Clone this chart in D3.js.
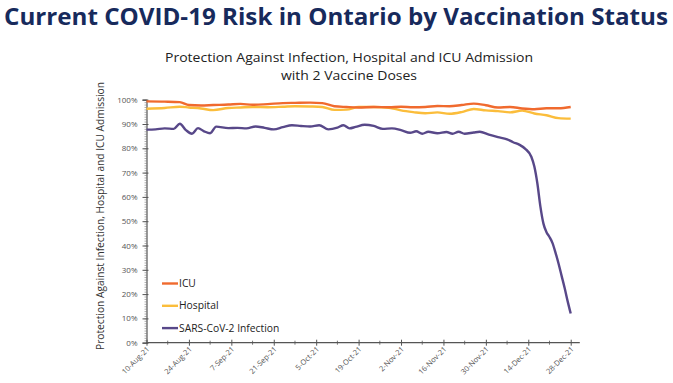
<!DOCTYPE html>
<html>
<head>
<meta charset="utf-8">
<script src="https://cdn.jsdelivr.net/npm/d3@7"></script>
<style>
  body { margin: 0; background: #fff; }
  svg { display: block; }
  text { font-family: "Open Sans", sans-serif; }
</style>
</head>
<body>
<div id="chart"></div>
<script>
// days counted from 10-Aug-21
const startDate = new Date(2021, 7, 10);

// ICU and hospital protection
const protDays = [0, 6, 11, 14, 18, 22, 27, 31, 35, 40, 45, 49, 54, 58, 62, 66, 70, 75, 80, 84, 88, 92, 96, 100, 104, 108, 112, 116, 120, 124, 128, 132, 136, 140];
const icuValues = [99.3, 99.2, 99.0, 97.8, 97.6, 97.8, 98.0, 98.3, 97.9, 98.2, 98.6, 98.7, 98.8, 98.6, 97.3, 97.0, 96.8, 97.0, 96.9, 97.1, 96.9, 97.0, 97.4, 97.3, 97.8, 98.4, 97.7, 96.8, 97.0, 96.4, 96.1, 96.5, 96.5, 97.0];
const hospitalValues = [96.3, 96.6, 97.1, 96.8, 96.4, 95.7, 96.6, 96.8, 97.0, 96.9, 97.1, 97.3, 97.2, 97.0, 95.8, 95.9, 97.0, 97.0, 96.7, 95.6, 94.9, 94.4, 94.8, 94.2, 94.9, 96.2, 95.6, 95.3, 94.8, 95.5, 94.3, 93.6, 92.4, 92.2];

// infection protection
const infDays = [0, 3, 6, 9, 11, 13, 15, 17, 19, 21, 23, 27, 30, 33, 36, 39, 42, 45, 48, 51, 54, 57, 60, 63, 65, 67, 69, 72, 75, 78, 81, 84, 87, 89, 91, 93, 96, 99, 101, 103, 105, 108, 110, 113, 116, 119, 121, 123, 125, 127, 128, 129, 130, 131, 132, 133, 134, 135, 136, 137, 138, 139, 140];
const infectionValues = [87.7, 87.8, 88.2, 88.0, 90.1, 87.5, 86.0, 88.3, 87.0, 86.2, 88.9, 88.3, 88.4, 88.2, 89.0, 88.4, 87.8, 88.7, 89.5, 89.2, 89.0, 89.5, 87.8, 88.5, 89.5, 88.2, 88.8, 89.7, 89.2, 88.0, 88.2, 87.5, 86.4, 87.0, 86.0, 86.8, 86.2, 86.7, 86.0, 86.8, 86.0, 86.5, 86.8, 85.6, 84.6, 83.7, 82.5, 81.5, 79.8, 76.5, 72.5, 65.5, 56.0, 49.0, 45.5, 43.5, 41.0, 37.0, 32.5, 27.5, 22.5, 17.0, 12.0];

const seriesNames = ["ICU", "Hospital", "SARS-CoV-2 Infection"];
const seriesColors = ["#f06a2e", "#fbbd3b", "#584889"];

const W = 673, H = 383;
const svg = d3.select("#chart").append("svg")
  .attr("width", W).attr("height", H);

const dayToDate = d => d3.timeDay.offset(startDate, d);

const x = d3.scaleTime()
  .domain([startDate, dayToDate(143)])
  .range([146.5, 579.8]);
const y = d3.scaleLinear().domain([0, 100]).range([342.7, 99.7]);

// page title
svg.append("text")
  .attr("x", 4).attr("y", 25)
  .attr("textLength", 664).attr("lengthAdjust", "spacingAndGlyphs")
  .style("font-size", "24px").style("font-weight", 700)
  .attr("fill", "#172a5c")
  .text("Current COVID-19 Risk in Ontario by Vaccination Status");

// chart title
const title = svg.append("g").attr("fill", "#222");
title.append("text").attr("x", 349).attr("y", 61.5).attr("text-anchor", "middle")
  .attr("textLength", 368).attr("lengthAdjust", "spacingAndGlyphs")
  .style("font-size", "13.5px")
  .text("Protection Against Infection, Hospital and ICU Admission");
title.append("text").attr("x", 349).attr("y", 79.5).attr("text-anchor", "middle")
  .attr("textLength", 136).attr("lengthAdjust", "spacingAndGlyphs")
  .style("font-size", "13.5px")
  .text("with 2 Vaccine Doses");

// y axis title
svg.append("text")
  .attr("transform", "translate(104,216) rotate(-90)")
  .attr("text-anchor", "middle")
  .attr("textLength", 268).attr("lengthAdjust", "spacingAndGlyphs")
  .style("font-size", "10px").attr("fill", "#333")
  .text("Protection Against Infection, Hospital and ICU Admission");

// y axis, minor ticks every 1%
svg.append("g")
  .attr("transform", `translate(${x.range()[0]},0)`)
  .call(d3.axisLeft(y).tickValues(d3.range(0, 101, 1)).tickSize(2).tickFormat(""))
  .call(g => g.select(".domain").remove())
  .call(g => g.selectAll("line").attr("stroke", "#777").attr("stroke-width", 0.6));

const yAxis = svg.append("g")
  .attr("transform", `translate(${x.range()[0]},0)`)
  .call(d3.axisLeft(y).tickValues(d3.range(0, 101, 10)).tickSize(4).tickPadding(5)
    .tickFormat(d => d + "%"));
yAxis.select(".domain").attr("stroke", "#555").attr("stroke-width", 1.2);
yAxis.selectAll(".tick line").attr("stroke", "#555").attr("x2", 2).attr("x1", -4);
yAxis.selectAll(".tick text").style("font-size", "8px").attr("fill", "#555")
  .style("font-family", "'Open Sans', sans-serif");

// x axis
const majorDates = d3.range(0, 141, 14).map(dayToDate);
const minorDates = d3.range(7, 141, 14).map(dayToDate);

const xAxis = svg.append("g")
  .attr("transform", `translate(0,${y(0)})`)
  .call(d3.axisBottom(x).tickValues(majorDates).tickSize(3).tickFormat(d3.timeFormat("%-d-%b-%y")));
xAxis.select(".domain").attr("stroke", "#555").attr("stroke-width", 1.2)
  .attr("d", `M${x.range()[0]},0H${x.range()[1]}`);
xAxis.selectAll(".tick line").attr("stroke", "#555").attr("y1", -3).attr("y2", 3);
xAxis.selectAll(".tick text")
  .style("font-size", "7.5px").attr("fill", "#555")
  .style("font-family", "'Open Sans', sans-serif")
  .attr("text-anchor", "end")
  .attr("dy", null).attr("y", 0)
  .attr("transform", "translate(3,7) rotate(-45)");

svg.append("g")
  .attr("transform", `translate(0,${y(0)})`)
  .selectAll("line").data(minorDates).join("line")
  .attr("x1", d => x(d)).attr("x2", d => x(d))
  .attr("y1", -2).attr("y2", 2)
  .attr("stroke", "#555").attr("stroke-width", 0.8);

// lines
const line = d3.line()
  .x(d => x(dayToDate(d[0])))
  .y(d => y(d[1]))
  .curve(d3.curveMonotoneX);

const series = [
  d3.zip(protDays, icuValues),
  d3.zip(protDays, hospitalValues),
  d3.zip(infDays, infectionValues)
];

svg.append("g").selectAll("path")
  .data([1, 0, 2])
  .join("path")
  .attr("d", i => line(series[i]))
  .attr("fill", "none")
  .attr("stroke", i => seriesColors[i])
  .attr("stroke-width", 2.4)
  .attr("stroke-linejoin", "round");

// legend
const legend = svg.append("g").attr("transform", "translate(162,283.5)");
seriesNames.forEach((name, i) => {
  const row = legend.append("g").attr("transform", `translate(0,${i * 22.3})`);
  row.append("line").attr("x1", 0).attr("x2", 16)
    .attr("stroke", seriesColors[i]).attr("stroke-width", 2.4);
  row.append("text").attr("x", 17).attr("dy", "0.35em")
    .style("font-size", "10.3px").attr("fill", "#222")
    .text(name);
});
</script>
</body>
</html>
